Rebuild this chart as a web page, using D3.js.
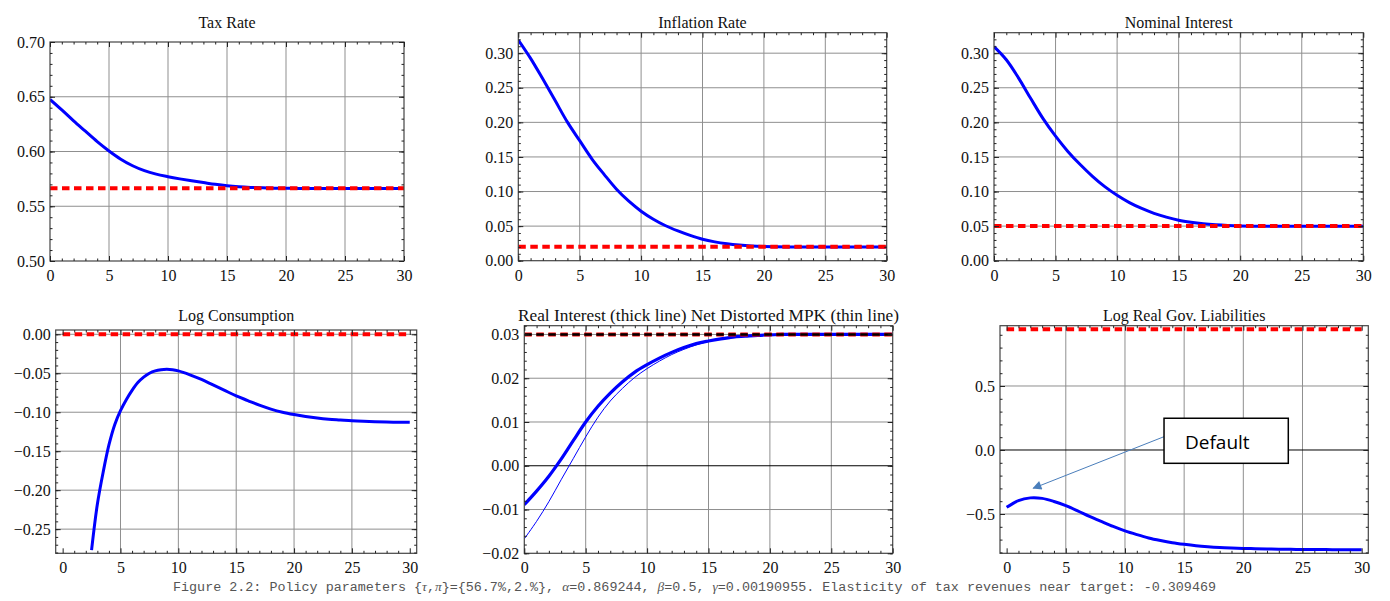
<!DOCTYPE html>
<html>
<head>
<meta charset="utf-8">
<script src="https://cdn.jsdelivr.net/npm/d3@7/dist/d3.min.js"></script>
<style>
  body { margin: 0; background: #fff; }
  svg text { font-family: "Liberation Serif", "Times New Roman", serif; }
</style>
</head>
<body>
<svg width="1390" height="601"></svg>
<script>
// ---- data (period t = 0..30) ----
const steps = d3.range(0, 31);

const taxRate = [0.6476, 0.638, 0.628, 0.6185, 0.609, 0.6005, 0.593, 0.587, 0.5825, 0.5793,
  0.577, 0.575, 0.5732, 0.5716, 0.5700, 0.5687, 0.5678, 0.5672, 0.5668, 0.5665,
  0.5664, 0.5663, 0.5663, 0.5663, 0.5663, 0.5663, 0.5663, 0.5663, 0.5663, 0.5663, 0.5663];
const taxTarget = 0.5664;

const inflation = [0.319, 0.2925, 0.2625, 0.2315, 0.2003, 0.1735, 0.147, 0.1245, 0.1033, 0.086,
  0.0716, 0.060, 0.0505, 0.043, 0.0365, 0.031, 0.0272, 0.0245, 0.0226, 0.0213,
  0.0205, 0.020, 0.0198, 0.0197, 0.0197, 0.0197, 0.0197, 0.0197, 0.0197, 0.0197, 0.0197];
const inflationTarget = 0.02;

const nominal = [0.3095, 0.2905, 0.264, 0.234, 0.205, 0.180, 0.158, 0.139, 0.122, 0.107,
  0.0945, 0.084, 0.0755, 0.0685, 0.063, 0.0585, 0.0555, 0.0533, 0.0518, 0.0508,
  0.0502, 0.0499, 0.0498, 0.0497, 0.0497, 0.0497, 0.0497, 0.0497, 0.0497, 0.0497, 0.0497];
const nominalTarget = 0.05;

const consSteps = [2.5, 3, 3.5, 4, 4.5, 5, 5.5, 6, 6.5, 7, 7.5, 8, 8.5, 9, 9.5, 10,
  11, 12, 13, 14, 15, 16, 17, 18, 19, 20, 21, 22, 23, 24, 25, 26, 27, 28, 29, 30];
const logCons = [-0.277, -0.218, -0.177, -0.142, -0.116, -0.098, -0.084, -0.072, -0.062, -0.055,
  -0.050, -0.047, -0.0455, -0.045, -0.0455, -0.047, -0.052, -0.058, -0.065, -0.072,
  -0.079, -0.085, -0.091, -0.096, -0.100, -0.103, -0.1055, -0.1075, -0.109, -0.110,
  -0.111, -0.1117, -0.1122, -0.1126, -0.1129, -0.113];
const consTarget = 0.0;

const realRate = [-0.0089, -0.0058, -0.0024, 0.0015, 0.0058, 0.0100, 0.0136, 0.0166, 0.0192, 0.0214,
  0.0231, 0.0246, 0.0259, 0.0270, 0.0279, 0.0285, 0.0290, 0.0294, 0.0296, 0.0298,
  0.0299, 0.0300, 0.0300, 0.0300, 0.0300, 0.0300, 0.0300, 0.0300, 0.0300, 0.0300, 0.0300];
const mpkRate = [-0.0167, -0.0127, -0.0082, -0.0032, 0.0017, 0.0066, 0.0111, 0.0148, 0.0177, 0.0202,
  0.0222, 0.0239, 0.0254, 0.0266, 0.0276, 0.0284, 0.0290, 0.0294, 0.0296, 0.0298,
  0.0299, 0.0300, 0.0300, 0.0300, 0.0300, 0.0300, 0.0300, 0.0300, 0.0300, 0.0300, 0.0300];
const rateTarget = 0.03;

const logLiab = [-0.448, -0.395, -0.374, -0.378, -0.402, -0.435, -0.475, -0.518, -0.558, -0.597,
  -0.632, -0.661, -0.687, -0.707, -0.724, -0.737, -0.748, -0.756, -0.762, -0.766,
  -0.769, -0.771, -0.773, -0.775, -0.776, -0.777, -0.778, -0.778, -0.779, -0.779, -0.779];
const liabTarget = 0.943;

const xTicks = [0, 5, 10, 15, 20, 25, 30];

const svg = d3.select('svg');
const RED = '#ff0000', BLUE = '#0000ff';

const panels = [
  { title: 'Tax Rate', box: [50, 42, 404, 261], xd: [0, 30], yd: [0.5, 0.7],
    yTicks: [0.5, 0.55, 0.6, 0.65, 0.7], yMinor: 0.01, fmt: '.2f',
    lines: [{ x: steps, y: taxRate, w: 3 }], refs: [taxTarget] },
  { title: 'Inflation Rate', box: [518.3, 32.7, 886.7, 260.7], xd: [0, 30], yd: [0, 0.3296],
    yTicks: [0, 0.05, 0.1, 0.15, 0.2, 0.25, 0.3], yMinor: 0.01, fmt: '.2f',
    lines: [{ x: steps, y: inflation, w: 3 }], refs: [inflationTarget] },
  { title: 'Nominal Interest', box: [994, 32.7, 1363.3, 260.7], xd: [0, 30], yd: [0, 0.3296],
    yTicks: [0, 0.05, 0.1, 0.15, 0.2, 0.25, 0.3], yMinor: 0.01, fmt: '.2f',
    lines: [{ x: steps, y: nominal, w: 3 }], refs: [nominalTarget] },
  { title: 'Log Consumption', box: [55.7, 330, 416.7, 553.3], xd: [-0.6, 30.6], yd: [-0.281, 0.0055],
    yTicks: [-0.25, -0.2, -0.15, -0.1, -0.05, 0], yMinor: 0.01, fmt: '.2f',
    lines: [{ x: consSteps, y: logCons, w: 3 }], refs: [consTarget] },
  { title: 'Real Interest (thick  line) Net Distorted MPK (thin line)', titleLen: 381,
    box: [524.3, 325.7, 892.7, 553.3], xd: [0, 30], yd: [-0.02, 0.032],
    yTicks: [-0.02, -0.01, 0, 0.01, 0.02, 0.03], yMinor: 0.002, fmt: '.2f', zero: true,
    lines: [{ x: steps, y: mpkRate, w: 1 }, { x: steps, y: realRate, w: 3.2 }],
    refs: [rateTarget], blackRef: true },
  { title: 'Log Real Gov. Liabilities', box: [1000, 325.7, 1368.3, 553.3], xd: [-0.56, 30.56], yd: [-0.807, 0.971],
    yTicks: [-0.5, 0, 0.5], yMinor: 0.1, fmt: '.1f', zero: true,
    lines: [{ x: steps, y: logLiab, w: 3 }], refs: [liabTarget], note: true }
];

svg.append('defs').append('marker')
  .attr('id', 'arrow').attr('viewBox', '0 0 10 10')
  .attr('refX', 9).attr('refY', 5)
  .attr('markerWidth', 11).attr('markerHeight', 9)
  .attr('markerUnits', 'userSpaceOnUse')
  .attr('orient', 'auto')
  .append('path').attr('d', 'M0,0 L10,5 L0,10 Z').attr('fill', '#4a7ebb');

function minorValues(domain, step) {
  const lo = Math.ceil(domain[0] / step - 1e-6), hi = Math.floor(domain[1] / step + 1e-6);
  return d3.range(lo, hi + 1).map(k => +(k * step).toFixed(6));
}

panels.forEach((p, i) => {
  const [L, T, R, B] = p.box;
  const x = d3.scaleLinear().domain(p.xd).range([L, R]);
  const y = d3.scaleLinear().domain(p.yd).range([B, T]);
  const g = svg.append('g');

  // grid
  const xGrid = xTicks.filter(v => v > 0 && v < 30);
  g.append('g').selectAll('line').data(xGrid).join('line')
    .attr('x1', d => x(d)).attr('x2', d => x(d)).attr('y1', T).attr('y2', B)
    .attr('stroke', '#8f8f8f').attr('stroke-width', 1);
  const yGrid = p.yTicks.filter(v => y(v) > T + 1 && y(v) < B - 1 && !(p.zero && v === 0));
  g.append('g').selectAll('line').data(yGrid).join('line')
    .attr('x1', L).attr('x2', R).attr('y1', d => y(d)).attr('y2', d => y(d))
    .attr('stroke', '#8f8f8f').attr('stroke-width', 1);
  if (p.zero) {
    g.append('line').attr('x1', L).attr('x2', R).attr('y1', y(0)).attr('y2', y(0))
      .attr('stroke', '#000').attr('stroke-width', 1);
  }

  // series
  const clipId = 'clip' + i;
  svg.append('defs').append('clipPath').attr('id', clipId)
    .append('rect').attr('x', L).attr('y', T).attr('width', R - L).attr('height', B - T);
  const plot = g.append('g').attr('clip-path', `url(#${clipId})`);
  const line = d3.line().x(d => x(d[0])).y(d => y(d[1])).curve(d3.curveCatmullRom.alpha(0.5));
  p.lines.forEach(s => {
    plot.append('path')
      .attr('d', line(s.x.map((t, k) => [t, s.y[k]])))
      .attr('fill', 'none').attr('stroke', BLUE).attr('stroke-width', s.w)
      .attr('stroke-linejoin', 'round');
  });
  p.refs.forEach(v => {
    plot.append('line').attr('x1', x(0)).attr('x2', x(30)).attr('y1', y(v)).attr('y2', y(v))
      .attr('stroke', RED).attr('stroke-width', 4).attr('stroke-dasharray', '7.5,4.5');
    if (p.blackRef) {
      plot.append('line').attr('x1', x(0)).attr('x2', x(30)).attr('y1', y(v)).attr('y2', y(v))
        .attr('stroke', '#000').attr('stroke-width', 2.6).attr('stroke-dasharray', '7.5,4.5');
    }
  });

  // frame
  g.append('rect').attr('x', L).attr('y', T).attr('width', R - L).attr('height', B - T)
    .attr('fill', 'none').attr('stroke', '#444').attr('stroke-width', 1.2);

  // ticks on all four sides, pointing inward
  const xMinor = d3.range(0, 31).filter(v => v % 5 !== 0);
  const yMinor = minorValues(p.yd, p.yMinor);
  const styleAxis = sel => {
    sel.select('.domain').remove();
    sel.selectAll('line').attr('stroke', '#222');
    sel.attr('font-family', null).attr('font-size', null);
    sel.selectAll('text').attr('fill', '#111').style('font-size', '16px')
      .style('font-family', '"Liberation Serif","Times New Roman",serif');
  };
  g.append('g').attr('transform', `translate(0,${B})`)
    .call(d3.axisBottom(x).tickValues(xTicks).tickSizeInner(-5).tickSizeOuter(0).tickPadding(8.6).tickFormat(d3.format('d')))
    .call(styleAxis);
  g.append('g').attr('transform', `translate(0,${B})`)
    .call(d3.axisBottom(x).tickValues(xMinor).tickSize(-2.5).tickFormat(''))
    .call(styleAxis);
  g.append('g').attr('transform', `translate(0,${T})`)
    .call(d3.axisTop(x).tickValues(xTicks).tickSize(-5).tickFormat(''))
    .call(styleAxis);
  g.append('g').attr('transform', `translate(0,${T})`)
    .call(d3.axisTop(x).tickValues(xMinor).tickSize(-2.5).tickFormat(''))
    .call(styleAxis);
  g.append('g').attr('transform', `translate(${L},0)`)
    .call(d3.axisLeft(y).tickValues(p.yTicks).tickSizeInner(-5).tickSizeOuter(0).tickPadding(5).tickFormat(d3.format(p.fmt)))
    .call(styleAxis);
  g.append('g').attr('transform', `translate(${L},0)`)
    .call(d3.axisLeft(y).tickValues(yMinor).tickSize(-2.5).tickFormat(''))
    .call(styleAxis);
  g.append('g').attr('transform', `translate(${R},0)`)
    .call(d3.axisRight(y).tickValues(p.yTicks).tickSize(-5).tickFormat(''))
    .call(styleAxis);
  g.append('g').attr('transform', `translate(${R},0)`)
    .call(d3.axisRight(y).tickValues(yMinor).tickSize(-2.5).tickFormat(''))
    .call(styleAxis);

  // title
  const title = g.append('text')
    .attr('x', (L + R) / 2).attr('y', i < 3 ? 27.7 : 321)
    .attr('text-anchor', 'middle').attr('fill', '#111').style('font-size', '16px')
    .text(p.title);
  if (p.titleLen) {
    title.attr('x', (L + R) / 2 - p.titleLen / 2).attr('text-anchor', 'start')
      .attr('textLength', p.titleLen).attr('lengthAdjust', 'spacingAndGlyphs');
  }

  // callout box on the liabilities panel
  if (p.note) {
    const bx0 = x(13.3), bx1 = x(23.8), by0 = y(0.248), by1 = y(-0.104);
    g.append('line')
      .attr('x1', bx0).attr('y1', y(0.104)).attr('x2', x(2.25)).attr('y2', y(-0.299))
      .attr('stroke', '#4a7ebb').attr('stroke-width', 1).attr('marker-end', 'url(#arrow)');
    g.append('rect').attr('x', bx0).attr('y', by0).attr('width', bx1 - bx0).attr('height', by1 - by0)
      .attr('fill', '#fff').attr('stroke', '#000').attr('stroke-width', 1.5);
    g.append('text').attr('x', bx0 + 21).attr('y', by0 + 31)
      .style('font-family', '"Open Sans","Liberation Sans",sans-serif').style('font-size', '19px')
      .attr('fill', '#000').text('Default');
  }
});

// caption
const cap = svg.append('text').attr('x', 173).attr('y', 591)
  .attr('textLength', 1043).attr('lengthAdjust', 'spacingAndGlyphs')
  .style('font-family', '"Liberation Mono","Courier New",monospace').style('font-size', '12.5px')
  .attr('fill', '#555');
const capParts = [
  ['Figure 2.2: Policy parameters {', false], ['τ', true], [',', false], ['π', true],
  ['}={56.7%,2.%}, ', false], ['α', true], ['=0.869244, ', false], ['β', true],
  ['=0.5, ', false], ['γ', true], ['=0.00190955. Elasticity of tax revenues near target: -0.309469', false]
];
capParts.forEach(([s, greek]) => {
  const t = cap.append('tspan').text(s);
  if (greek) t.style('font-family', '"Liberation Serif",serif').style('font-style', 'italic');
});
</script>
</body>
</html>
